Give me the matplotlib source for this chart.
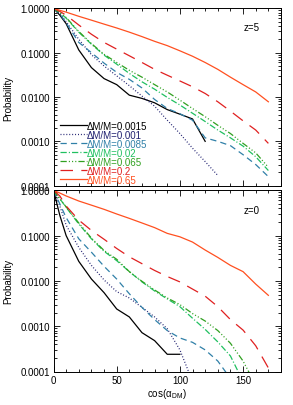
import matplotlib
matplotlib.use('Agg')
import matplotlib.pyplot as plt
from matplotlib.ticker import LogLocator, MultipleLocator, FormatStrFormatter, NullFormatter

plt.rcParams['font.family'] = ['Liberation Sans', 'DejaVu Sans']
plt.rcParams['font.size'] = 7
plt.rcParams['lines.scale_dashes'] = False

# cos(alpha_DM) sample points
angle = [0, 5, 10, 20, 30, 40, 50, 60, 70, 80, 90, 100, 110, 120, 130, 140, 150, 160, 170]

labels = ['ΔM/M=0.0015', 'ΔM/M=0.001', 'ΔM/M=0.0085', 'ΔM/M=0.02',
          'ΔM/M=0.065', 'ΔM/M=0.2', 'ΔM/M=0.65']

# z=5
z5 = [
    [1, 0.7, 0.45, 0.115, 0.046, 0.026, 0.019, 0.011, 0.0093, 0.0074, 0.0052, 0.0041, 0.0032, 0.0010],
    [1, 0.75, 0.5, 0.2, 0.09, 0.05, 0.03, 0.018, 0.0105, 0.0062, 0.0030, 0.0015, 0.0007, 0.00035, 0.00017],
    [1, 0.75, 0.47, 0.17, 0.1, 0.058, 0.036, 0.025, 0.016, 0.0088, 0.0055, 0.0042, 0.003, 0.0012,
     0.001, 0.0008, 0.0005, 0.0003, 0.00016],
    [1, 0.8, 0.6, 0.29, 0.155, 0.088, 0.055, 0.034, 0.022, 0.015, 0.0098, 0.0066, 0.0043, 0.0028,
     0.0018, 0.0012, 0.00078, 0.00045, 0.00022],
    [1, 0.8, 0.62, 0.3, 0.16, 0.092, 0.06, 0.04, 0.028, 0.019, 0.013, 0.0085, 0.0055, 0.0036,
     0.0023, 0.0015, 0.0009, 0.00055, 0.00026],
    [1, 0.85, 0.7, 0.42, 0.26, 0.17, 0.12, 0.085, 0.06, 0.042, 0.031, 0.023, 0.017, 0.012,
     0.0078, 0.0048, 0.0029, 0.0018, 0.0009],
    [1, 0.9, 0.82, 0.66, 0.54, 0.44, 0.36, 0.29, 0.23, 0.18, 0.144, 0.11, 0.083, 0.06,
     0.042, 0.028, 0.019, 0.013, 0.0078],
]

# z=0
z0 = [
    [1, 0.28, 0.1, 0.027, 0.011, 0.0055, 0.0024, 0.0016, 0.00072, 0.00048, 0.00024, 0.00024],
    [1, 0.45, 0.17, 0.055, 0.022, 0.0105, 0.0058, 0.0042, 0.0026, 0.0016, 0.00088, 0.0003, 0.00006],
    [1, 0.5, 0.25, 0.085, 0.043, 0.021, 0.011, 0.0052, 0.0026, 0.0014, 0.0008, 0.00055, 0.00044,
     0.0003, 0.00017, 0.00007],
    [1, 0.65, 0.42, 0.18, 0.085, 0.045, 0.028, 0.016, 0.0095, 0.006, 0.004, 0.0027, 0.0015,
     0.00085, 0.00045, 0.00022, 0.00006],
    [1, 0.65, 0.43, 0.19, 0.088, 0.047, 0.03, 0.016, 0.0098, 0.0063, 0.0042, 0.003, 0.0019,
     0.0013, 0.0008, 0.00042, 0.00017, 0.00005],
    [1, 0.75, 0.45, 0.22, 0.13, 0.083, 0.052, 0.034, 0.024, 0.017, 0.0125, 0.0095, 0.0066,
     0.0046, 0.0027, 0.0014, 0.00082, 0.00037, 0.00012],
    [1, 0.87, 0.75, 0.58, 0.47, 0.38, 0.3, 0.24, 0.19, 0.15, 0.112, 0.094, 0.072, 0.048,
     0.033, 0.022, 0.016, 0.0085, 0.0048],
]

colors = ['black', '#202070', '#3080a8', '#20c060', '#30a020', '#e02020', '#ff5020']
styles = ['-', (0, (0.7, 1.4)), (0, (4.5, 3)), (0, (4.5, 1.5, 0.8, 1.5)),
          (0, (4.5, 1.5, 0.8, 1.5, 0.8, 1.5, 0.8, 1.5)), (0, (9, 6)), '-']

fig = plt.figure(figsize=(2.93, 4.06), dpi=100)
ax1 = fig.add_axes([53.5/293, 1-186.7/406, 227.5/293, 177.4/406])
ax2 = fig.add_axes([53.5/293, 1-372.5/406, 227.5/293, 181.2/406])

for ax, data, ztxt in [(ax1, z5, 'z=5'), (ax2, z0, 'z=0')]:
    for vals, c, ls, lab in zip(data, colors, styles, labels):
        ax.plot(angle[:len(vals)], vals, color=c, ls=ls, lw=0.9, label=lab)
    ax.set_yscale('log')
    ax.set_ylim(1e-4, 1)
    ax.set_xlim(0, 180)
    ax.yaxis.set_major_locator(LogLocator(base=10, numticks=10))
    ax.yaxis.set_minor_locator(LogLocator(base=10, subs=range(2, 10), numticks=10))
    ax.yaxis.set_major_formatter(FormatStrFormatter('%.4f'))
    ax.yaxis.set_minor_formatter(NullFormatter())
    ax.xaxis.set_major_locator(MultipleLocator(50))
    ax.xaxis.set_minor_locator(MultipleLocator(10))
    ax.tick_params(which='both', direction='in', top=True, right=True, width=0.6, labelsize=7, pad=2.5)
    ax.tick_params(which='major', length=4)
    ax.tick_params(which='minor', length=2.2)
    for s in ax.spines.values():
        s.set_linewidth(0.7)
    ax.set_ylabel('Probability', fontsize=7)
    ax.yaxis.set_label_coords(-0.178, 0.5)
    ax.text(0.908, 0.893, ztxt, transform=ax.transAxes, ha='right', va='center', fontsize=7)

ax1.tick_params(axis='x', labelbottom=False)
ax2.set_xlabel('cos(α$_\\mathregular{DM}$)', fontsize=7, labelpad=1)

ax1.legend(loc='lower left', bbox_to_anchor=(0.028, 0.005), frameon=False, fontsize=7,
           handlelength=2.75, handletextpad=0, labelspacing=-0.1, borderpad=0,
           borderaxespad=0, labelcolor='linecolor')

fig.savefig('out.png', dpi=100)
